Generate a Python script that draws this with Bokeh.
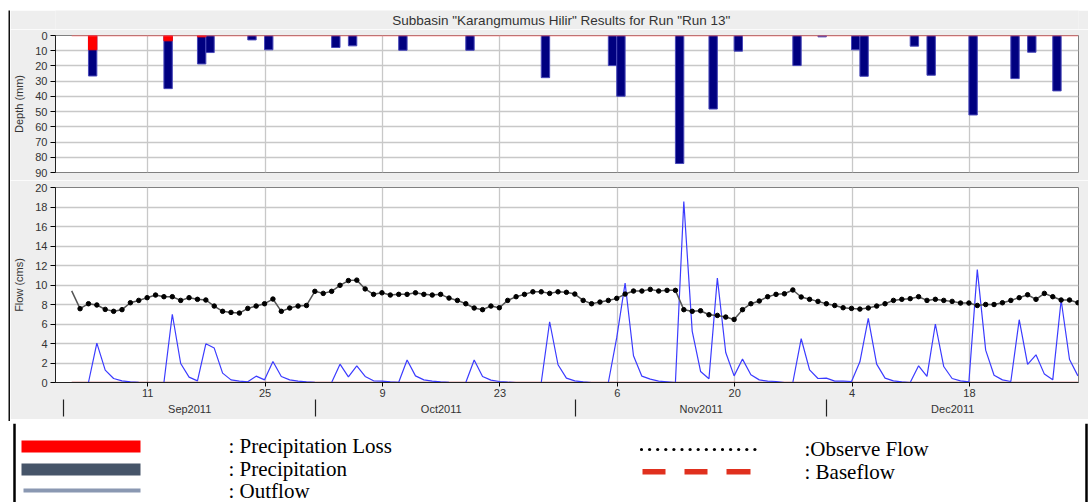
from bokeh.plotting import figure
from bokeh.models import Range1d, FixedTicker, LinearAxis, Spacer
from bokeh.layouts import column, row
from bokeh.embed import file_html
from bokeh.resources import INLINE
from bokeh.core.properties import value

# ---------------- data (x = days since 2011-09-01 00:00) ----------------
TITLE = 'Subbasin "Karangmumus Hilir" Results for Run "Run 13"'
series_start = 0.93          # first daily value time (days after Sep 1)

observed_flow = [
    9.4, 7.57, 8.08, 7.95, 7.5, 7.3, 7.47, 8.18, 8.42, 8.7,
    8.97, 8.8, 8.8, 8.42, 8.7, 8.53, 8.46, 7.84, 7.3, 7.19,
    7.12, 7.6, 7.84, 8.08, 8.56, 7.3, 7.64, 7.84, 7.9, 9.35,
    9.14, 9.35, 9.97, 10.45, 10.5, 9.6, 9.04, 9.2, 8.97, 9.04,
    9.04, 9.2, 9.04, 8.97, 9.04, 8.66, 8.42, 8.08, 7.64, 7.47,
    7.84, 7.67, 8.42, 8.8, 9.04, 9.3, 9.3, 9.14, 9.3, 9.25,
    9.07, 8.42, 8.08, 8.25, 8.42, 8.63, 9.07, 9.38, 9.38, 9.55,
    9.38, 9.45, 9.45, 7.47, 7.3, 7.36, 6.95, 6.88, 6.71, 6.47,
    7.47, 8.08, 8.36, 8.8, 9.04, 9.1, 9.49, 8.77, 8.53, 8.32,
    8.08, 7.9, 7.67, 7.6, 7.53, 7.64, 7.84, 8.08, 8.42, 8.53,
    8.6, 8.8, 8.42, 8.53, 8.42, 8.32, 8.15, 8.15, 7.9, 8.0,
    8.0, 8.18, 8.42, 8.7, 9.0, 8.53, 9.14, 8.8, 8.46, 8.46,
    8.18,
]

outflow = [
    0, 0, 0, 4.04, 1.27, 0.41, 0.17, 0.07, 0.02, 0,
    0, 0, 7.0, 1.95, 0.55, 0.17, 3.97, 3.53, 0.96, 0.27,
    0.14, 0.07, 0.65, 0.27, 2.16, 0.62, 0.27, 0.14, 0.07, 0.02,
    0, 0, 1.88, 0.58, 1.71, 0.62, 0.17, 0.14, 0.07, 0.02,
    2.3, 0.68, 0.27, 0.14, 0.07, 0.02, 0, 0, 2.3, 0.62,
    0.24, 0.1, 0.03, 0, 0, 0, 0, 6.23, 1.82, 0.45,
    0.17, 0.07, 0, 0, 0, 4.6, 10.2, 2.74, 0.65, 0.34,
    0.14, 0.07, 0, 18.56, 5.27, 1.13, 0.38, 10.72, 3.08, 0.68,
    2.4, 0.79, 0.27, 0.14, 0.1, 0, 0, 4.49, 1.3, 0.41,
    0.45, 0.14, 0.14, 0.1, 2.12, 6.58, 1.88, 0.45, 0.17, 0.07,
    0, 1.71, 0.62, 6.0, 1.64, 0.41, 0.17, 0.07, 11.58, 3.32,
    0.75, 0.27, 0.1, 6.44, 1.85, 2.84, 0.86, 0.27, 8.46, 2.36,
    0.68,
]

baseflow = [0.0] * len(outflow)

precip_index = [3, 12, 16, 17, 22, 24, 32, 34, 40, 48, 57, 65, 66, 73,
                77, 80, 87, 90, 94, 95, 101, 103, 108, 113, 115, 118]
precip_mm = [26.6, 34.9, 18.7, 11.2, 2.9, 9.4, 7.9, 6.8, 9.7, 9.7, 27.7, 19.75, 39.9, 84.1,
             48.3, 10.3, 19.75, 0.9, 9.4, 26.8, 7.0, 26.1, 52.2, 28.3, 11.0, 36.4]
loss_index = [3, 12, 16]
loss_mm = [9.4, 3.5, 0.9]

day_ticks = [10, 24, 38, 52, 66, 80, 94, 108]
day_labels = ["11", "25", "9", "23", "6", "20", "4", "18"]
month_bounds = [0, 30, 61, 91]
month_centers = [15, 45, 76, 106]
month_labels = ["Sep2011", "Oct2011", "Nov2011", "Dec2011"]

legend_labels = [": Precipitation Loss", ": Precipitation", ": Outflow",
                 ":Observe Flow", ": Baseflow"]

# --------------- derived positions ---------------
t = [series_start + k for k in range(len(outflow))]
bar_t_p = [series_start - 0.5 + k for k in precip_index]
bar_t_l = [series_start - 0.5 + k for k in loss_index]

FONT = "Liberation Sans"
TXT = "#333333"
GRID = "#C8C8C8"
BG = "#EEEEEE"

xr = Range1d(-1.0, 121.0)


def bare(w, h, xrng=None, yrng=None, color="white"):
    kw = {}
    if xrng is not None:
        kw["x_range"] = xrng
        kw["y_range"] = yrng
    b = figure(width=w, height=h, toolbar_location=None, output_backend="svg",
               min_border=0, x_axis_type=None, y_axis_type=None,
               outline_line_color=None, **kw)
    b.min_border_left = b.min_border_right = b.min_border_top = b.min_border_bottom = 0
    b.background_fill_color = color
    b.border_fill_color = color
    b.xgrid.visible = False
    b.ygrid.visible = False
    return b


def style_common(p):
    p.background_fill_color = "white"
    p.border_fill_color = BG
    p.outline_line_color = "#808080"
    p.outline_line_width = 1
    for ax in p.yaxis:
        ax.major_tick_out = 5
        ax.major_tick_in = 0
        ax.minor_tick_line_color = None
        ax.major_label_standoff = 3
        ax.major_label_text_font = FONT
        ax.major_label_text_font_size = "11px"
        ax.major_label_text_color = TXT
        ax.axis_label_text_font = FONT
        ax.axis_label_text_font_size = "11px"
        ax.axis_label_text_font_style = "normal"
        ax.axis_label_text_color = TXT
        ax.axis_label_standoff = 7
        ax.axis_line_color = "#222222"
    p.xgrid.ticker = FixedTicker(ticks=day_ticks)
    p.xgrid.grid_line_color = GRID
    p.xgrid.grid_line_width = 1.3
    p.ygrid.grid_line_color = GRID
    p.ygrid.grid_line_width = 1.3


# ---------------- title strip ----------------
p_title = bare(1078, 19, Range1d(10, 1088), Range1d(29, 10), color=BG)
p_title.text(x=[543], y=[19.5], text=[TITLE], text_font=value(FONT), text_font_size="13.5px",
             text_align="center", text_baseline="middle", text_color=TXT)

# ---------------- top panel: precipitation ----------------
p_top = figure(width=1078, height=151, x_range=xr, y_range=Range1d(90, 0),
               toolbar_location=None, output_backend="svg",
               min_border_left=43, min_border_right=10, min_border_top=6, min_border_bottom=8)
p_top.xaxis.visible = False
p_top.yaxis.ticker = FixedTicker(ticks=list(range(0, 100, 10)))
p_top.yaxis.axis_label = "Depth (mm)"
style_common(p_top)

p_top.vbar(x=bar_t_p, width=1.0, top=precip_mm, bottom=0,
           fill_color="#000080", line_color="#4848B8", line_width=1)
p_top.vbar(x=bar_t_l, width=1.0, top=loss_mm, bottom=0,
           fill_color="#FF0000", line_color="#FF0000", line_width=1)
p_top.line(x=t, y=baseflow, line_color="#FF6464", line_width=1.5)

# ---------------- bottom panel: flow ----------------
p_bot = figure(width=1078, height=239, x_range=xr, y_range=Range1d(0, 20),
               toolbar_location=None, output_backend="svg",
               min_border_left=43, min_border_right=10, min_border_top=7, min_border_bottom=37)
p_bot.yaxis.ticker = FixedTicker(ticks=list(range(0, 22, 2)))
p_bot.yaxis.axis_label = "Flow (cms)"
dax = p_bot.xaxis[0]
dax.ticker = FixedTicker(ticks=day_ticks)
dax.major_label_overrides = dict(zip(day_ticks, day_labels))
dax.major_tick_out = 4
dax.major_tick_in = 0
dax.minor_tick_line_color = None
dax.major_label_standoff = 2
dax.major_label_text_font = FONT
dax.major_label_text_font_size = "11px"
dax.major_label_text_color = TXT
dax.axis_line_color = "#222222"
style_common(p_bot)

max_ax = LinearAxis(ticker=FixedTicker(ticks=month_centers, minor_ticks=month_bounds),
                    major_label_overrides=dict(zip(month_centers, month_labels)),
                    major_tick_out=0, major_tick_in=0, major_tick_line_color=None,
                    minor_tick_out=0, minor_tick_in=-17, minor_tick_line_color="#222222",
                    minor_tick_line_width=1.2,
                    axis_line_color=None, major_label_standoff=3,
                    major_label_text_font=FONT, major_label_text_font_size="11px",
                    major_label_text_color=TXT)
p_bot.add_layout(max_ax, "below")

p_bot.line(x=t, y=baseflow, line_color="#B03030", line_width=1.5)
p_bot.line(x=t, y=outflow, line_color="#3B3BFF", line_width=1.2)
p_bot.line(x=t, y=observed_flow, line_color="#555555", line_width=1.5)
p_bot.scatter(x=t[1:], y=observed_flow[1:], size=4.5, marker="circle",
              fill_color="black", line_color="black")

# ---------------- legend area (page coordinates) ----------------
pl = bare(1080, 79, Range1d(8, 1088), Range1d(500, 421), color="white")
pl.segment(x0=[14, 1086], y0=[421, 421], x1=[14, 1086], y1=[500, 500],
           line_color="black", line_width=2.5)
pl.quad(left=[21], right=[140], top=[438], bottom=[450], fill_color="#FF0000", line_color=None)
pl.quad(left=[21], right=[140], top=[461], bottom=[473], fill_color="#465569", line_color=None)
pl.quad(left=[23], right=[140], top=[486], bottom=[490], fill_color="#8A98B2", line_color=None)
pl.scatter(x=[641 + 8.1 * i for i in range(15)], y=[447] * 15, size=3.2,
           marker="circle", fill_color="black", line_color=None)
pl.quad(left=[642, 684, 726], right=[665, 707, 750], top=[466.5] * 3, bottom=[472] * 3,
        fill_color="#E0301E", line_color=None)
pl.text(x=[228, 228, 228, 804, 804], y=[443, 466, 488, 446, 469],
        text=legend_labels,
        text_font=value("Liberation Serif"), text_font_size="21px",
        text_baseline="middle", text_color="black")

# ---------------- frame lines & page offset ----------------
charts = column(p_title, p_top, p_bot, spacing=0)
block = column(bare(1080, 2, color="#111111"),
               row(bare(2, 411, color="#111111"), charts, spacing=0),
               bare(1080, 2, color="#111111"),
               pl, spacing=0)
layout = column(Spacer(width=1088, height=8),
                row(Spacer(width=8, height=494), block, spacing=0),
                spacing=0)

open("out.html", "w").write(file_html(layout, INLINE))
